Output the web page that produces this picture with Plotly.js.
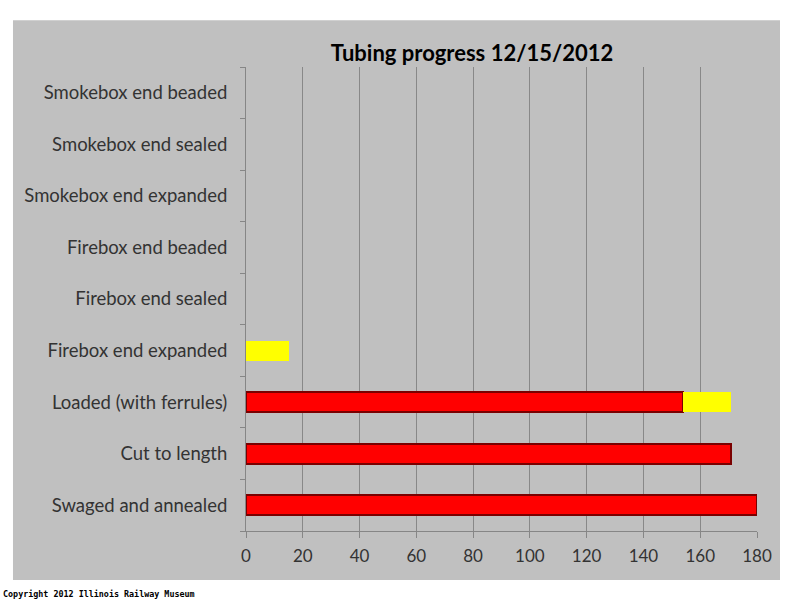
<!DOCTYPE html>
<html>
<head>
<meta charset="utf-8">
<script src="https://cdn.plot.ly/plotly-3.0.1.min.js"></script>
<style>html,body{margin:0;padding:0;background:#fff;}</style>
</head>
<body>
<div id="chart" style="width:800px;height:600px;"></div>
<script>
const categories = ["Swaged and annealed", "Cut to length", "Loaded (with ferrules)", "Firebox end expanded", "Firebox end sealed", "Firebox end beaded", "Smokebox end expanded", "Smokebox end sealed", "Smokebox end beaded"];
const redValues = [180, 171, 154, null, null, null, null, null, null];
const yellowValues = [null, null, 17, 15, null, null, null, null, null];
const xTicks = [0, 20, 40, 60, 80, 100, 120, 140, 160, 180];
const titleText = "Tubing progress 12/15/2012";
const copyrightText = "Copyright 2012 Illinois Railway Museum";

const font = "Lato, 'Open Sans', 'Liberation Sans', sans-serif";
const data = [
  {type: "bar", orientation: "h", y: categories, x: redValues, name: "Done",
   marker: {color: "#ff0000", line: {color: "#7a0000", width: 2}}, hoverinfo: "x+y"},
  {type: "bar", orientation: "h", y: categories, x: yellowValues, name: "In progress",
   marker: {color: "#ffff00", line: {width: 0}}, hoverinfo: "x+y"}
];
const layout = {
  width: 800, height: 600,
  margin: {l: 246, r: 43, t: 67, b: 69},
  paper_bgcolor: "#ffffff",
  plot_bgcolor: "rgba(0,0,0,0)",
  barmode: "stack",
  bargap: 0.61,
  showlegend: false,
  font: {family: font, size: 17, color: "#333333"},
  title: {text: "<b>" + titleText + "</b>", x: 0.59, xanchor: "center", y: 0.912, yanchor: "middle",
          font: {family: font, size: 22, color: "#000000"}},
  xaxis: {range: [0, 180], tickvals: xTicks, ticktext: xTicks.map(String),
          showgrid: true, gridcolor: "#888888", gridwidth: 1,
          showline: true, linecolor: "#868686", linewidth: 1,
          ticks: "outside", ticklen: 6, tickcolor: "#868686",
          ticklabelstandoff: 4, zeroline: false, fixedrange: true,
          tickfont: {family: font, size: 17, color: "#333333"}},
  yaxis: {type: "category", categoryorder: "array", categoryarray: categories,
          range: [-0.5, categories.length - 0.5],
          showgrid: false, showline: true, linecolor: "#868686", linewidth: 1,
          ticks: "outside", ticklen: 5, tickcolor: "#868686", tickson: "boundaries",
          ticklabelstandoff: 14, fixedrange: true,
          tickfont: {family: font, size: 18.5, color: "#333333"}},
  shapes: [{type: "rect", xref: "paper", yref: "paper", x0: -0.456, x1: 1.045, y0: -0.1056, y1: 1.101,
            fillcolor: "#c0c0c0", line: {width: 0}, layer: "below"}],
  annotations: [{text: "<b>" + copyrightText + "</b>", xref: "paper", yref: "paper",
                 x: -0.479, xanchor: "left", y: -0.1365, yanchor: "middle", showarrow: false,
                 font: {family: "'DejaVu Sans Mono', monospace", size: 8.4, color: "#000000"}}]
};
Plotly.newPlot("chart", data, layout, {displayModeBar: false, staticPlot: true});
</script>
</body>
</html>
